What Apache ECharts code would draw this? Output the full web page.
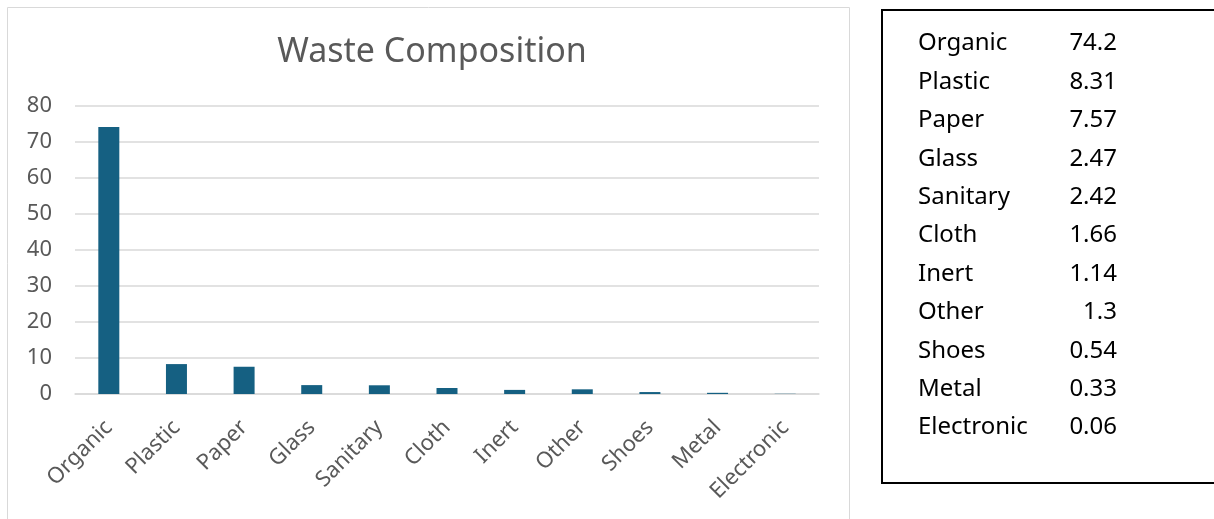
<!DOCTYPE html>
<html>
<head>
<meta charset="utf-8">
<script src="https://cdn.jsdelivr.net/npm/echarts@6/dist/echarts.min.js"></script>
<style>
html,body{margin:0;padding:0;background:#fff;}
#main{width:1214px;height:519px;}
</style>
</head>
<body>
<div id="main"></div>
<script>
const categories = ['Organic','Plastic','Paper','Glass','Sanitary','Cloth','Inert','Other','Shoes','Metal','Electronic'];
const values = [74.2, 8.31, 7.57, 2.47, 2.42, 1.66, 1.14, 1.3, 0.54, 0.33, 0.06];
const yTicks = [0, 10, 20, 30, 40, 50, 60, 70, 80];

const chart = echarts.init(document.getElementById('main'), null, {renderer:'canvas'});
const font = '"Noto Sans", sans-serif';
const gray = '#595959';

const tableItems = [];
categories.forEach((c, i) => {
  const y = 43.5 + i * 38.4;
  tableItems.push({type:'text', x:918, y:y, style:{text:c, font:'24px ' + font, fill:'#000', textVerticalAlign:'middle'}});
  tableItems.push({type:'text', x:1117, y:y, style:{text:String(values[i]), font:'24px ' + font, fill:'#000', textAlign:'right', textVerticalAlign:'middle'}});
});

const graphics = [
  {type:'rect', shape:{x:7.5, y:7.5, width:842, height:530}, style:{fill:'none', stroke:'#d9d9d9', lineWidth:1}, z:-1},
  {type:'rect', shape:{x:882, y:10, width:360, height:473}, style:{fill:'#fff', stroke:'#000', lineWidth:2}, z:-1}
].concat(tableItems);

chart.setOption({
  animation:false,
  textStyle:{fontFamily:font},
  title:{
    text:'Waste Composition', left:427, top:30, textAlign:'center',
    textStyle:{fontSize:34, fontWeight:'normal', color:gray, fontFamily:font}
  },
  grid:{left:75, right:395, top:106, bottom:125, containLabel:false},
  xAxis:{
    type:'category', data:categories,
    axisLine:{lineStyle:{color:'#d9d9d9', width:1.5}},
    axisTick:{show:false},
    axisLabel:{rotate:45, color:gray, fontSize:22, margin:30, interval:0, fontFamily:font}
  },
  yAxis:{
    type:'value', min:yTicks[0], max:yTicks[yTicks.length-1], interval:10,
    axisLine:{show:false}, axisTick:{show:false},
    splitLine:{lineStyle:{color:'#d9d9d9', width:1.5}},
    axisLabel:{color:gray, fontSize:22, margin:23, fontFamily:font}
  },
  series:[{
    type:'bar', data:values, barWidth:21,
    itemStyle:{color:'#156082'}
  }],
  graphic:graphics
});
</script>
</body>
</html>
